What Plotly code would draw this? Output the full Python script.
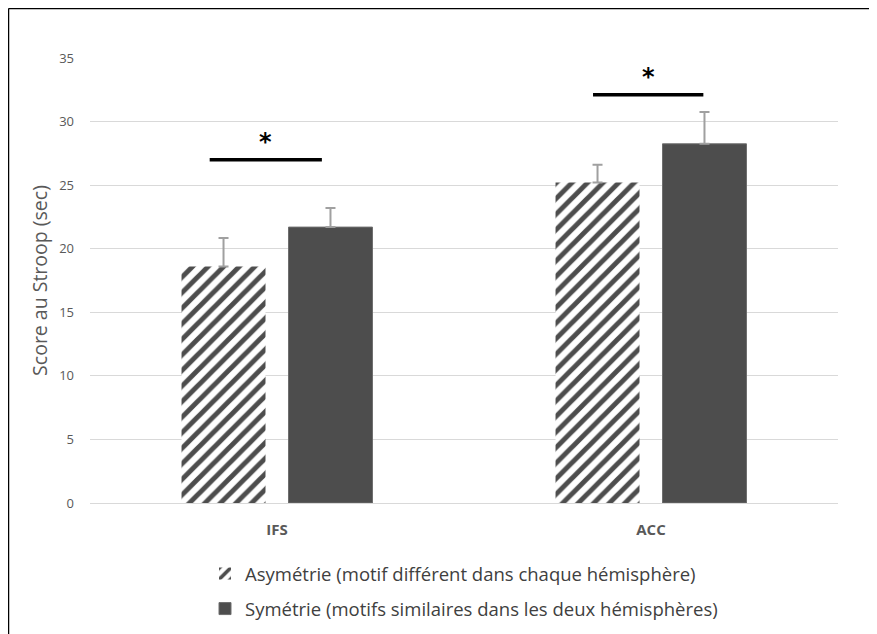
import plotly.graph_objects as go

categories = ["IFS", "ACC"]
asym_values = [18.6, 25.2]
asym_errors = [2.25, 1.4]
sym_values = [21.7, 28.25]
sym_errors = [1.5, 2.5]
series_names = ["Asymétrie (motif différent dans chaque hémisphère)",
                "Symétrie (motifs similaires dans les deux hémisphères)"]
y_ticks = [0, 5, 10, 15, 20, 25, 30, 35]
sig_levels = [27.0, 32.1]

DARK = "#4d4d4d"
GREY_TXT = "#595959"
FONT = "Open Sans"

# page body has an 8px margin: the figure is laid out in shifted coordinates
OFF = 8
W, H = 877 - OFF, 634 - OFF
L = 90 - OFF
T = 58 - OFF
R = W - (838 - OFF)
B = H - (503 - OFF)
pw, ph = W - L - R, H - T - B


def px(x):
    return (x - OFF - L) / pw


def py(y):
    return (H - B - (y - OFF)) / ph


fig = go.Figure()
fig.add_trace(go.Bar(
    x=categories, y=asym_values, name=series_names[0],
    legendgroup="a",
    marker=dict(color="white", line=dict(width=0),
                pattern=dict(shape="/", fgcolor=DARK, bgcolor="white",
                             size=11, solidity=0.45, fillmode="replace")),
    error_y=dict(type="data", symmetric=False, array=asym_errors,
                 arrayminus=[0] * len(asym_errors),
                 color="#a0a0a0", thickness=2, width=5),
))
fig.add_trace(go.Bar(
    x=categories, y=sym_values, name=series_names[1],
    legendgroup="b",
    marker=dict(color=DARK, line=dict(color="#6e6e6e", width=1)),
    error_y=dict(type="data", symmetric=False, array=sym_errors,
                 arrayminus=[0] * len(sym_errors),
                 color="#a0a0a0", thickness=2, width=5),
))

# significance lines and stars
offsets = [(-0.18, 0.12), (-0.155, 0.14)]
for i, lvl in enumerate(sig_levels):
    x0, x1 = offsets[i]
    fig.add_shape(type="line", xref="x", yref="y", x0=i + x0, x1=i + x1,
                  y0=lvl, y1=lvl, line=dict(color="black", width=3.5))
    fig.add_annotation(x=i + (x0 + x1) / 2, y=lvl, xref="x", yref="y",
                       text="<b>*</b>", showarrow=False, yanchor="bottom",
                       yshift=2, font=dict(family="DejaVu Sans", size=24, color="black"))

# frame lines (top and left)
fig.add_shape(type="line", xref="paper", yref="paper", x0=px(8.5), x1=px(877),
              y0=py(8.5), y1=py(8.5), line=dict(color="black", width=1.5))
fig.add_shape(type="line", xref="paper", yref="paper", x0=px(8.5), x1=px(8.5),
              y0=py(8.5), y1=py(640), line=dict(color="black", width=1.5))

fig.update_layout(
    width=W, height=H,
    margin=dict(l=L, r=R, t=T, b=B, pad=0, autoexpand=False),
    paper_bgcolor="white", plot_bgcolor="white",
    font=dict(family=FONT, color=GREY_TXT),
    barmode="group", bargap=0.428, bargroupgap=0.215,
    showlegend=True,
    legend=dict(orientation="v", x=px(205), xanchor="left", y=py(555), yanchor="top",
                traceorder="grouped", tracegroupgap=8,
                font=dict(family=FONT, size=18.5, color="#404040"),
                itemwidth=30),
    xaxis=dict(type="category", showgrid=False, showline=False, ticks="",
               tickfont=dict(family=FONT, size=15, color=GREY_TXT, weight="bold"),
               ticklabelstandoff=16),
    yaxis=dict(range=[0, 35], tickvals=y_ticks, ticktext=[str(v) for v in y_ticks],
               showgrid=True, gridcolor="#d9d9d9", gridwidth=1,
               zeroline=True, zerolinecolor="#d9d9d9", zerolinewidth=1,
               showline=False, ticks="", ticklabelstandoff=15,
               tickfont=dict(family=FONT, size=13, color=GREY_TXT),
               title=dict(text="Score au Stroop (sec)", standoff=6,
                          font=dict(family=FONT, size=19.5, color=GREY_TXT))),
)

fig.write_html("out.html")
